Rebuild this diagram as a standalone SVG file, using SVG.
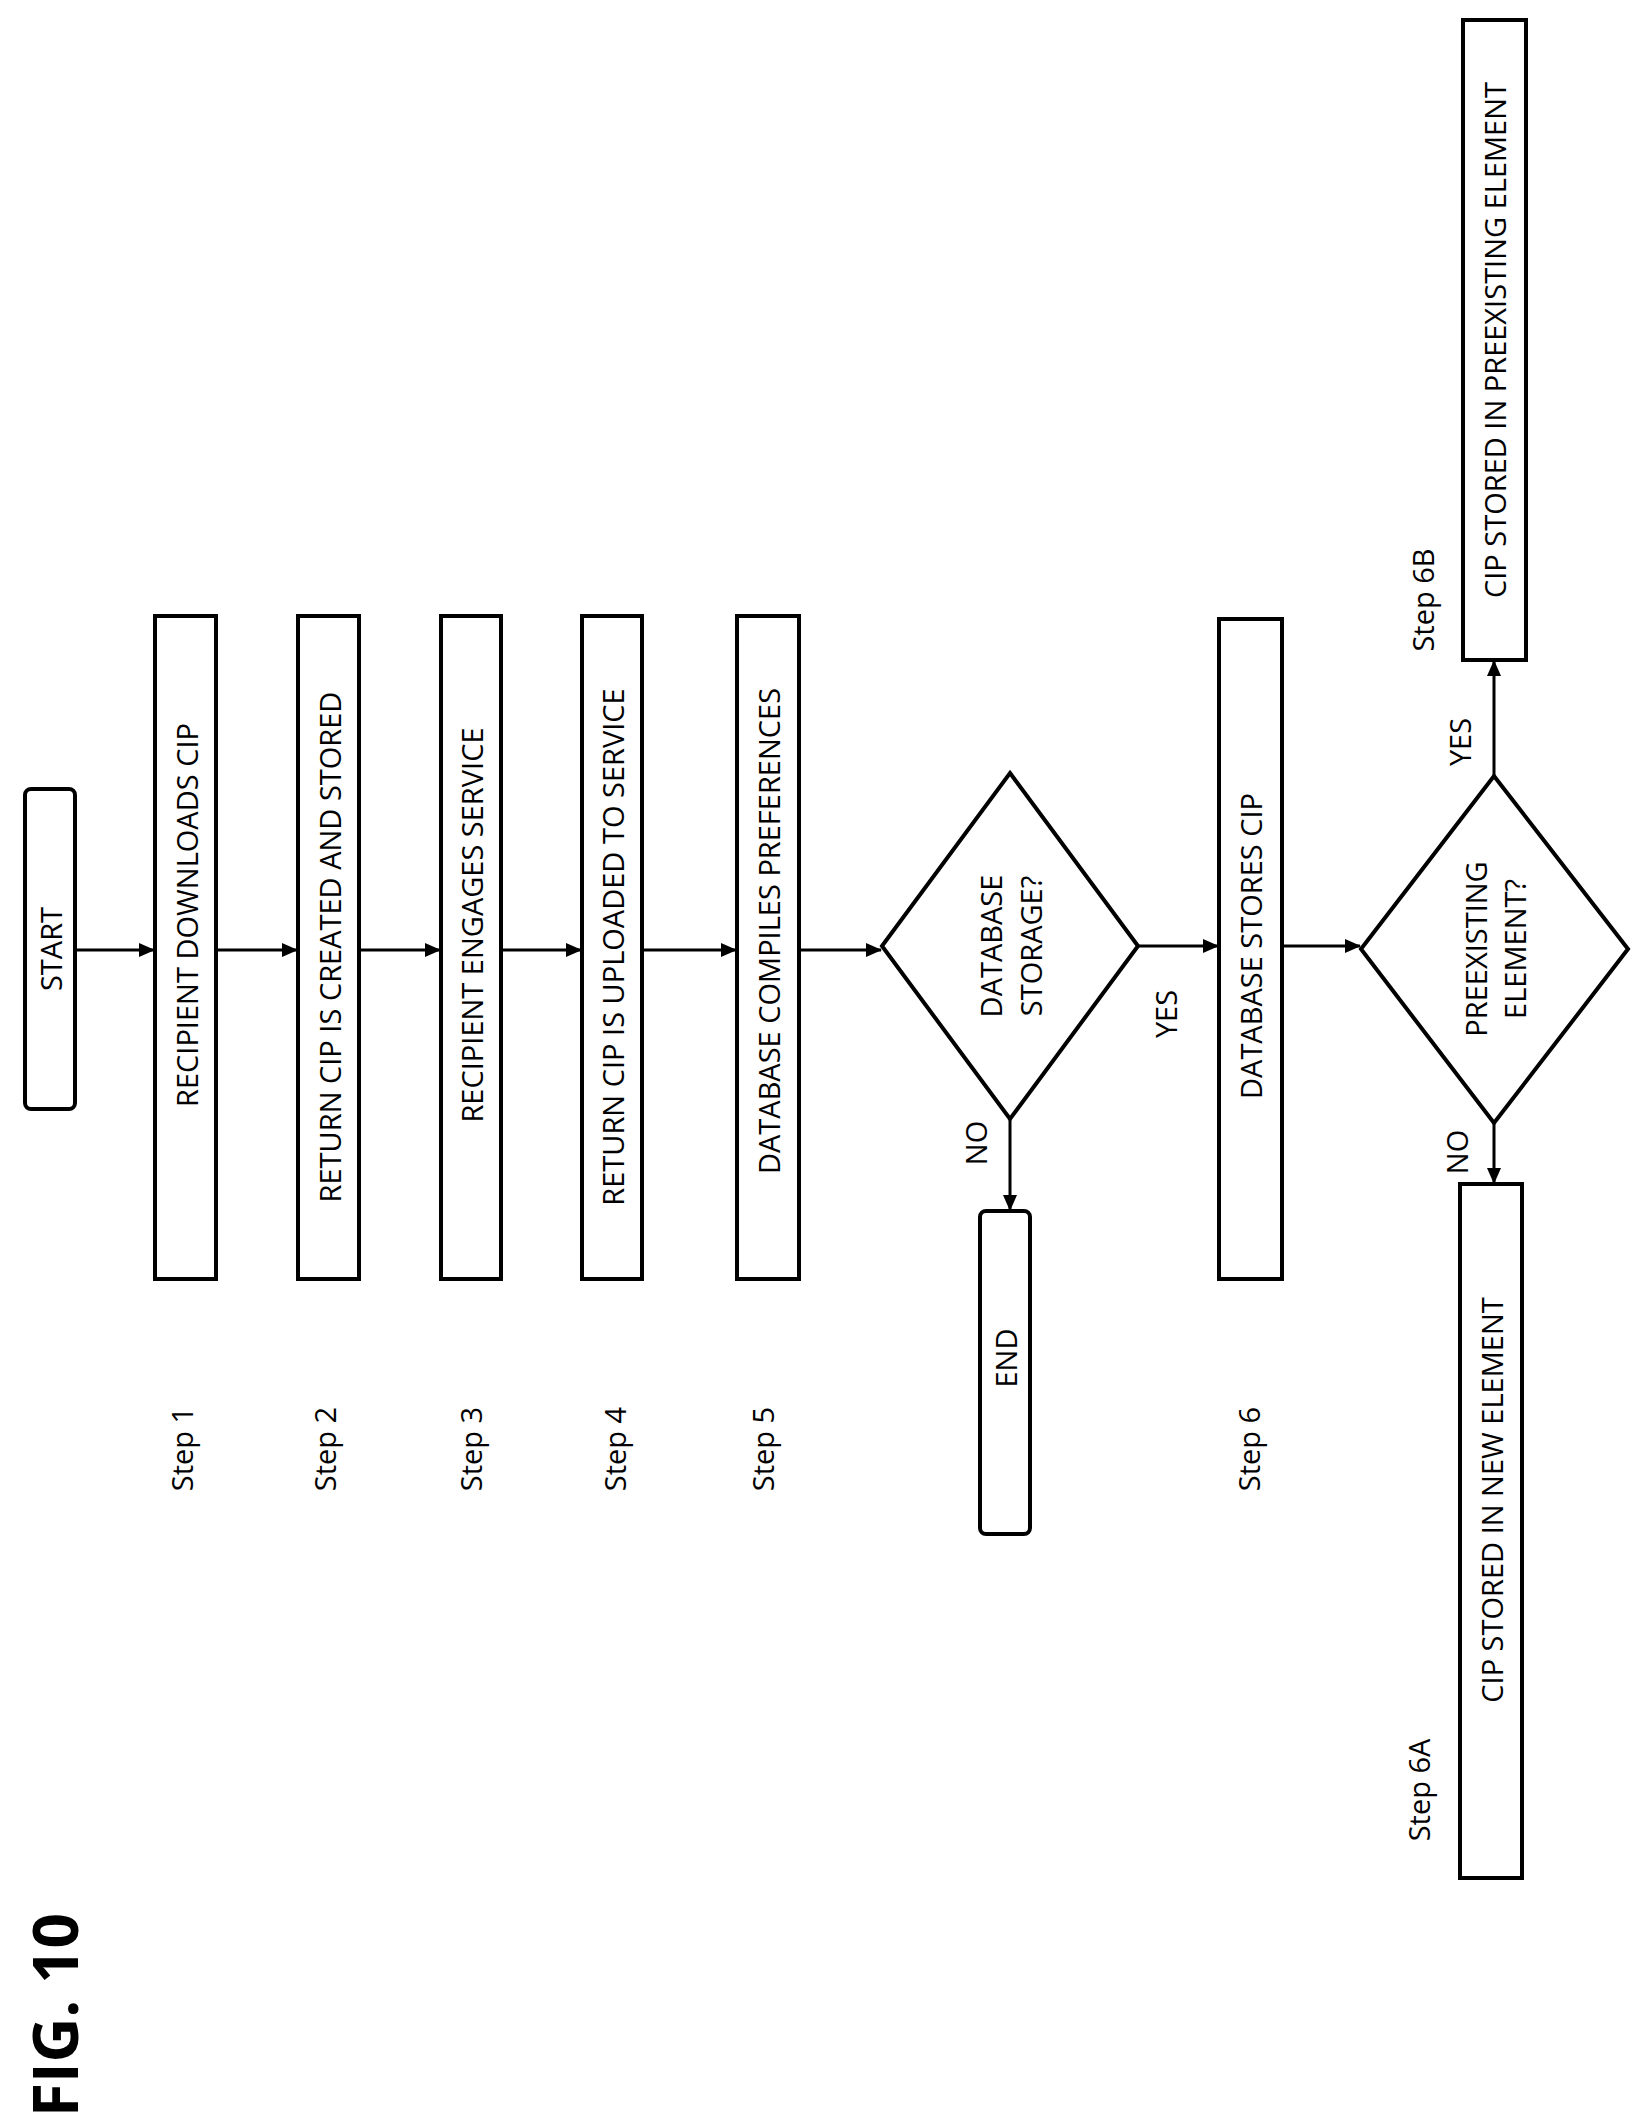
<svg xmlns="http://www.w3.org/2000/svg" width="1647" height="2127" viewBox="0 0 1647 2127">
<style>
.b{fill:#fff;stroke:#000;stroke-width:4}
.t{font-family:"Open Sans","DejaVu Sans",sans-serif;font-size:29px;font-weight:500;text-anchor:middle;dominant-baseline:central}
.c{stroke:#000;stroke-width:3;fill:none;marker-end:url(#a)}
</style>
<defs><marker id="a" markerWidth="16" markerHeight="14" refX="15" refY="7" orient="auto" markerUnits="userSpaceOnUse" viewBox="0 0 16 14"><path d="M0,0L16,7L0,14z"/></marker></defs>
<rect width="1647" height="2127" fill="#fff"/>
<text class="t" style="font-size:62px;font-weight:bold" transform="translate(54,2015) rotate(-90)">FIG. 10</text>
<g id="start"><rect class="b" x="25" y="789" width="50" height="320" rx="6"/><text class="t" transform="translate(50,949) rotate(-90)">START</text></g>
<g id="s1"><rect class="b" x="155" y="616" width="61" height="663"/><text class="t" transform="translate(186,915) rotate(-90)">RECIPIENT DOWNLOADS CIP</text><text class="t" transform="translate(181,1449) rotate(-90)">Step 1</text></g>
<g id="s2"><rect class="b" x="298" y="616" width="61" height="663"/><text class="t" transform="translate(329,947) rotate(-90)">RETURN CIP IS CREATED AND STORED</text><text class="t" transform="translate(324,1449) rotate(-90)">Step 2</text></g>
<g id="s3"><rect class="b" x="441" y="616" width="60" height="663"/><text class="t" transform="translate(471,925) rotate(-90)">RECIPIENT ENGAGES SERVICE</text><text class="t" transform="translate(470,1449) rotate(-90)">Step 3</text></g>
<g id="s4"><rect class="b" x="582" y="616" width="60" height="663"/><text class="t" transform="translate(612,947) rotate(-90)">RETURN CIP IS UPLOADED TO SERVICE</text><text class="t" transform="translate(614,1449) rotate(-90)">Step 4</text></g>
<g id="s5"><rect class="b" x="737" y="616" width="62" height="663"/><text class="t" transform="translate(768,931) rotate(-90)">DATABASE COMPILES PREFERENCES</text><text class="t" transform="translate(762,1449) rotate(-90)">Step 5</text></g>
<g id="d1"><path class="b" d="M1010,773L1138,946L1010,1119L882,946z"/><text class="t" transform="translate(990,946) rotate(-90)">DATABASE</text><text class="t" transform="translate(1030,946) rotate(-90)">STORAGE?</text></g>
<g id="end"><rect class="b" x="980" y="1211" width="50" height="323" rx="6"/><text class="t" transform="translate(1005,1358) rotate(-90)">END</text></g>
<g id="s6"><rect class="b" x="1219" y="619" width="63" height="660"/><text class="t" transform="translate(1250,946) rotate(-90)">DATABASE STORES CIP</text><text class="t" transform="translate(1248,1449) rotate(-90)">Step 6</text></g>
<g id="d2"><path class="b" d="M1494,776L1628,949L1494,1123L1361,949z"/><text class="t" transform="translate(1475,949) rotate(-90)">PREEXISTING</text><text class="t" transform="translate(1514,949) rotate(-90)">ELEMENT?</text></g>
<g id="s6b"><rect class="b" x="1463" y="20" width="63" height="640"/><text class="t" transform="translate(1494,340) rotate(-90)">CIP STORED IN PREEXISTING ELEMENT</text><text class="t" transform="translate(1422,600) rotate(-90)">Step 6B</text></g>
<g id="s6a"><rect class="b" x="1460" y="1184" width="62" height="694"/><text class="t" transform="translate(1491,1500) rotate(-90)">CIP STORED IN NEW ELEMENT</text><text class="t" transform="translate(1418,1790) rotate(-90)">Step 6A</text></g>
<g id="connectors">
<path class="c" d="M75,950H154"/><path class="c" d="M216,950H297"/><path class="c" d="M359,950H440"/><path class="c" d="M501,950H581"/><path class="c" d="M642,950H736"/><path class="c" d="M799,950H881"/>
<path class="c" d="M1138,946H1218"/><path class="c" d="M1282,946H1360"/>
<path class="c" d="M1010,1119V1210"/><path class="c" d="M1494,776V661"/><path class="c" d="M1494,1123V1183"/>
<text class="t" transform="translate(1165,1014) rotate(-90)">YES</text>
<text class="t" transform="translate(975,1143) rotate(-90)">NO</text>
<text class="t" transform="translate(1459,742) rotate(-90)">YES</text>
<text class="t" transform="translate(1456,1152) rotate(-90)">NO</text>
</g>
</svg>
